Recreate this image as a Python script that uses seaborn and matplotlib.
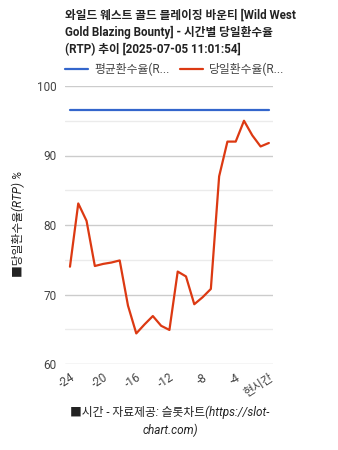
import matplotlib
matplotlib.use("Agg")
import matplotlib.pyplot as plt
import seaborn as sns
import pandas as pd
import numpy as np

hours = list(range(-24, 1))
daily_rtp = [74.0, 83.1, 80.6, 74.1, 74.4, 74.6, 74.9, 68.4, 64.4, 65.7, 66.9, 65.5, 64.9,
             73.3, 72.6, 68.6, 69.6, 70.8, 87.0, 92.0, 92.0, 95.0, 92.9, 91.3, 91.8]
avg_rtp = [96.5] * len(hours)
tick_pos = [-24, -20, -16, -12, -8, -4, 0]
tick_labels = ["-24", "-20", "-16", "-12", "-8", "-4", "현시간"]
series_names = ["평균환수율(R...", "당일환수율(R..."]
title = "와일드 웨스트 골드 블레이징 바운티 [Wild West\nGold Blazing Bounty] - 시간별 당일환수율\n(RTP) 추이 [2025-07-05 11:01:54]"
xlabel = "■시간 - 자료제공: 슬롯차트(https://slot-\nchart.com)"
ylabel = "■당일환수율(RTP) %"

sns.set_style("white")
plt.rcParams['font.family'] = ['Roboto', 'Noto Sans CJK KR', 'DejaVu Sans']

df = pd.DataFrame({"hour": hours * 2,
                   "value": avg_rtp + daily_rtp,
                   "series": [series_names[0]] * len(hours) + [series_names[1]] * len(hours)})

fig = plt.figure(figsize=(3.38, 4.5), dpi=100)
ax = fig.add_axes([65/338, 1 - 364/450, (273-65)/338, (364-86)/450])

sns.lineplot(data=df, x="hour", y="value", hue="series",
             palette=["#3366cc", "#dc3912"], linewidth=1.6, ax=ax, legend=False)

ax.set_xlim(-24.6, 0.5)
ax.set_ylim(60, 100)
ax.set_yticks([60, 70, 80, 90, 100])
ax.set_yticks([65, 75, 85, 95], minor=True)
ax.grid(True, which="major", axis="y", color="#cccccc", linewidth=1)
ax.grid(True, which="minor", axis="y", color="#ebebeb", linewidth=1)
ax.set_axisbelow(True)
for s in ax.spines.values():
    s.set_visible(False)
ax.set_xticks(tick_pos)
ax.set_xticklabels(tick_labels, rotation=33, ha="right", rotation_mode="anchor")
ax.tick_params(axis="both", which="both", length=0, colors="#444444", labelsize=8.5)
ax.tick_params(axis="x", pad=5)
ax.tick_params(axis="y", pad=6)
ax.set_xlabel("")
ax.set_ylabel("")

fig.text(170/338, 1 - 421/450, xlabel, ha="center", va="center", style="italic",
         fontsize=8.5, color="#222222", linespacing=1.45)
fig.text(18/338, 1 - 224/450, ylabel, ha="center", va="center", rotation=90, style="italic",
         fontsize=8.5, color="#222222")

fig.text(65/338, 1 - 9/450, title, ha="left", va="top", fontsize=8.4, fontweight="bold",
         color="#222222", linespacing=1.38)

# legend
ly = 1 - 69/450
fig.lines.append(plt.Line2D([65/338, 88/338], [ly, ly], color="#3366cc", linewidth=1.6, transform=fig.transFigure))
fig.text(94/338, ly, series_names[0], ha="left", va="center", fontsize=8.5, color="#444444")
fig.lines.append(plt.Line2D([180/338, 203/338], [ly, ly], color="#dc3912", linewidth=1.6, transform=fig.transFigure))
fig.text(209/338, ly, series_names[1], ha="left", va="center", fontsize=8.5, color="#444444")

fig.savefig("out.png", dpi=100)
